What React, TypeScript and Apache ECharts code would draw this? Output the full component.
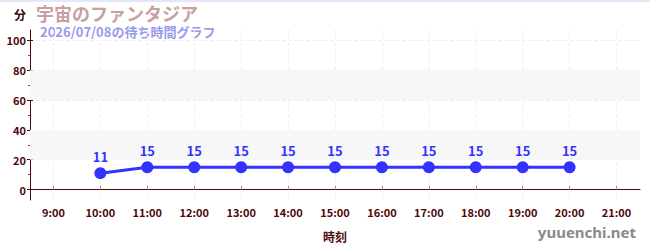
import React, { useEffect, useRef } from "react";
import * as echarts from "echarts";

const hours = [10, 11, 12, 13, 14, 15, 16, 17, 18, 19, 20];
const waits = [11, 15, 15, 15, 15, 15, 15, 15, 15, 15, 15];
const xTicks = [9, 10, 11, 12, 13, 14, 15, 16, 17, 18, 19, 20, 21];
const yTicks = [0, 20, 40, 60, 80, 100];
const yMinorTicks = [10, 30, 50, 70, 90];
const bands = [[20, 40], [60, 80]];

const title = "宇宙のファンタジア";
const subtitle = "2026/07/08の待ち時間グラフ";

export default function App() {
  const ref = useRef<HTMLDivElement>(null);
  useEffect(() => {
    document.body.style.margin = "0";
    const chart = echarts.init(ref.current!, null, { renderer: "svg" });
    const axisColor = "#4d0a0a";
    const font = "'Noto Sans CJK JP', 'Noto Sans', sans-serif";
    const yBase = {
      type: "value",
      min: -7,
      max: 107,
      position: "left",
      axisLine: { show: false },
      axisLabel: { show: false },
      splitLine: { show: false },
    };
    chart.setOption({
      animation: false,
      textStyle: { fontFamily: font },
      grid: { left: 30, right: 10, top: 30, bottom: 50 },
      graphic: [
        { type: "rect", shape: { x: 0, y: 0, width: 650, height: 2 }, style: { fill: "#e6e6fa" } },
        { type: "text", x: 14, y: 8, style: { text: "分", fontSize: 12, fontWeight: "bold", fill: "#3a0a0a", fontFamily: font } },
        { type: "text", x: 36, y: 4, style: { text: title, fontSize: 18, lineHeight: 18, fontWeight: "bold", fill: "#c9a0a0", fontFamily: font } },
        { type: "text", x: 40, y: 25, style: { text: subtitle, fontSize: 13, lineHeight: 13, fontWeight: "bold", fill: "#9999ee", fontFamily: font } },
        { type: "text", right: 14, y: 224, style: { text: "yuuenchi.net", fontSize: 15, fontWeight: "bold", fill: "#8a8a8a", fontFamily: "'Noto Sans', sans-serif" } },
      ],
      xAxis: {
        type: "value",
        min: 8.5,
        max: 21.5,
        name: "時刻",
        nameLocation: "middle",
        nameGap: 30,
        nameTextStyle: { color: axisColor, fontWeight: "bold", fontSize: 12, fontFamily: font },
        axisLine: { lineStyle: { color: axisColor, width: 1 } },
        axisTick: { customValues: xTicks, inside: true, length: 4, lineStyle: { color: "#999" } },
        axisLabel: {
          customValues: xTicks,
          color: axisColor,
          fontWeight: "bold",
          fontSize: 11,
          margin: 6,
          formatter: (v: number) => `${v}:00`,
        },
        splitLine: { show: true, lineStyle: { color: "#f0f0f0", type: "dashed" } },
      },
      yAxis: [
        {
          type: "value",
          min: -7,
          max: 107,
          axisLine: { show: true, lineStyle: { color: axisColor } },
          axisTick: { show: true, customValues: yTicks, length: 3, lineStyle: { color: axisColor } },
          axisLabel: { customValues: yTicks, color: axisColor, fontWeight: "bold", fontSize: 11, margin: 4 },
          splitLine: { show: true, lineStyle: { color: "#f0f0f0", type: "dashed" } },
        },
        { ...yBase, axisTick: { show: true, inside: true, customValues: yTicks, length: 3, lineStyle: { color: axisColor } } },
        { ...yBase, axisTick: { show: true, customValues: yMinorTicks, length: 2, lineStyle: { color: "#dd2222" } } },
      ],
      series: [
        {
          type: "line",
          data: hours.map((h, i) => [h, waits[i]]),
          symbol: "circle",
          symbolSize: 12,
          lineStyle: { color: "#3333ff", width: 3 },
          itemStyle: { color: "#3333ff" },
          label: { show: true, position: "top", color: "#3333ff", fontWeight: "bold", fontSize: 13, distance: 4 },
          markArea: {
            silent: true,
            itemStyle: { color: "#f7f7f7" },
            data: bands.map((b) => [{ yAxis: b[0] }, { yAxis: b[1] }]),
          },
          z: 3,
        },
      ],
    });
    return () => chart.dispose();
  }, []);
  return <div ref={ref} style={{ width: 650, height: 250 }} />;
}
